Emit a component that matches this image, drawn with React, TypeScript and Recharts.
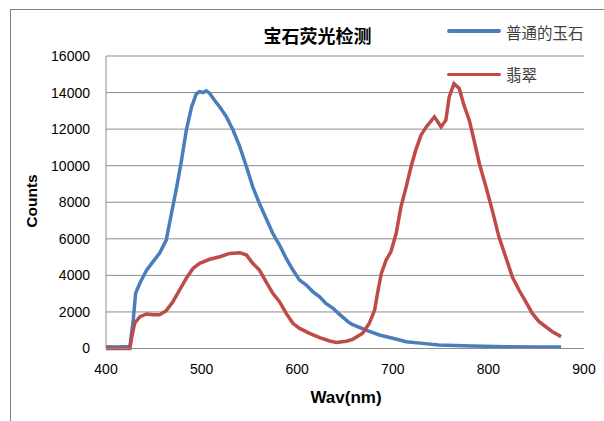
import { LineChart, Line, XAxis, YAxis, CartesianGrid } from 'recharts';

// 普通的玉石 (blue) – wavelength / counts
const jadeX = [400, 410, 420, 425, 428.5, 431, 435.5, 442.5, 449, 456, 463, 468.5, 474, 479, 484, 489.5, 494.5, 498, 501.5, 505, 508.5, 513.5, 519, 526, 533, 540, 547, 553.5, 560.5, 567.5, 574.5, 581.5, 588.5, 595.5, 602.5, 609.5, 616.5, 623.5, 630, 637.5, 644, 653, 658, 672, 686, 700, 714, 731, 748, 783, 818, 853, 876];
const jadeY = [90, 80, 100, 100, 1560, 3030, 3580, 4290, 4740, 5210, 5930, 7400, 8840, 10300, 11940, 13210, 13940, 14050, 14000, 14100, 13950, 13580, 13210, 12670, 11940, 11030, 9930, 8840, 7930, 7110, 6290, 5660, 4930, 4290, 3740, 3470, 3100, 2830, 2470, 2200, 1880, 1470, 1300, 1010, 740, 560, 370, 280, 190, 140, 100, 80, 80];

// 翡翠 (red)
const emeraldX = [400, 425, 427, 430, 435.5, 442.5, 449, 456, 463, 470, 477, 484, 491, 498, 508.5, 519, 529.5, 540, 547, 553.5, 560.5, 567.5, 574.5, 581.5, 588.5, 595.5, 602.5, 613, 623.5, 634, 641, 651.5, 658, 668.5, 675.5, 681, 684, 688, 693, 698, 703.5, 708.5, 714, 719, 724, 729.5, 735, 743.5, 747, 750.5, 755.5, 759, 764, 769.5, 774.5, 780, 785, 790.5, 797.5, 804, 811, 818, 825, 832, 839, 846, 853, 860, 867, 876];
const emeraldY = [0, 0, 650, 1380, 1740, 1890, 1850, 1850, 2070, 2560, 3200, 3840, 4380, 4660, 4880, 5020, 5200, 5240, 5110, 4660, 4290, 3650, 3020, 2560, 1920, 1380, 1100, 830, 590, 410, 330, 400, 500, 830, 1380, 2100, 3020, 4110, 4840, 5290, 6290, 7750, 8840, 9930, 10850, 11670, 12120, 12670, 12400, 12120, 12490, 13760, 14490, 14220, 13300, 12490, 11390, 10120, 8840, 7570, 6110, 5020, 3920, 3200, 2560, 1920, 1470, 1190, 920, 650];

const xTicks = [400, 500, 600, 700, 800, 900];
const yTicks = [0, 2000, 4000, 6000, 8000, 10000, 12000, 14000, 16000];

const jadeData = jadeX.map((x, i) => ({ x, y: jadeY[i] }));
const emeraldData = emeraldX.map((x, i) => ({ x, y: emeraldY[i] }));

const BLUE = '#4a7ebb';
const RED = '#be4b48';
const tickStyle = { fontSize: 14, fill: '#000', fontFamily: 'Liberation Sans, Arial, sans-serif' };
const cjk = '"Noto Sans CJK SC", sans-serif';

const App = () => (
  <div style={{ position: 'absolute', left: 0, top: 0, width: 604, height: 421, overflow: 'hidden', background: '#fff' }}>
    <div style={{ position: 'absolute', left: 10, top: 9, width: 700, height: 500, borderLeft: '1px solid #808080', borderTop: '1px solid #808080' }} />
    <LineChart width={604} height={421} margin={{ top: 56, right: 20, bottom: 0, left: 0 }}>
      <CartesianGrid vertical={false} stroke="#8c8c8c" />
      <XAxis
        type="number"
        dataKey="x"
        domain={[400, 900]}
        ticks={xTicks}
        height={72.5}
        tickSize={0}
        tickMargin={16}
        tick={tickStyle}
        axisLine={{ stroke: '#8c8c8c' }}
      />
      <YAxis
        type="number"
        dataKey="y"
        domain={[0, 16000]}
        ticks={yTicks}
        width={106}
        tickSize={0}
        tickMargin={16}
        tick={tickStyle}
        axisLine={{ stroke: '#8c8c8c' }}
      />
      <Line data={jadeData} dataKey="y" type="linear" stroke={BLUE} strokeWidth={3.5} dot={false} isAnimationActive={false} />
      <Line data={emeraldData} dataKey="y" type="linear" stroke={RED} strokeWidth={3.5} dot={false} isAnimationActive={false} />
    </LineChart>

    <div style={{ position: 'absolute', left: 240, top: 23, width: 155, textAlign: 'center', fontFamily: cjk, fontWeight: 700, fontSize: 18, lineHeight: '24px', color: '#000' }}>
      宝石荧光检测
    </div>

    <div style={{ position: 'absolute', left: 447, top: 29, width: 54, height: 3.5, background: BLUE, borderRadius: 2 }} />
    <div style={{ position: 'absolute', left: 506, top: 21, fontFamily: cjk, fontSize: 15.5, lineHeight: '22px', color: '#404040', whiteSpace: 'nowrap' }}>
      普通的玉石
    </div>
    <div style={{ position: 'absolute', left: 447, top: 72.5, width: 54, height: 3.5, background: RED, borderRadius: 2 }} />
    <div style={{ position: 'absolute', left: 506, top: 63, fontFamily: cjk, fontSize: 15.5, lineHeight: '22px', color: '#404040', whiteSpace: 'nowrap' }}>
      翡翠
    </div>

    <div style={{ position: 'absolute', left: 296, top: 387, width: 100, textAlign: 'center', fontFamily: 'Liberation Sans, Arial, sans-serif', fontWeight: 700, fontSize: 17, lineHeight: '22px' }}>
      Wav(nm)
    </div>
    <div style={{ position: 'absolute', left: 31.7 - 40, top: 201 - 11, width: 80, textAlign: 'center', transform: 'rotate(-90deg)', fontFamily: 'Liberation Sans, Arial, sans-serif', fontWeight: 700, fontSize: 15.5, lineHeight: '22px' }}>
      Counts
    </div>
  </div>
);

export default App;
